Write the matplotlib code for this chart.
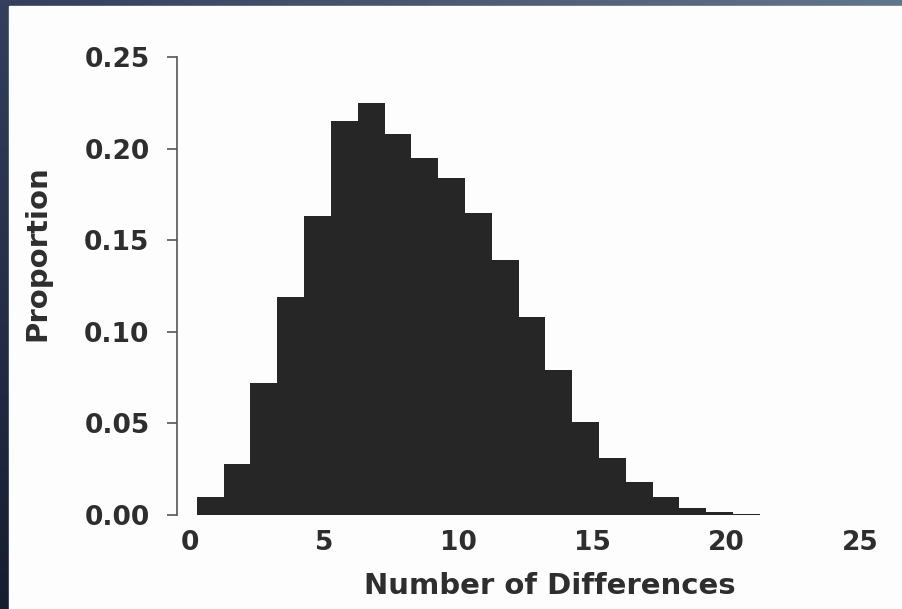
import matplotlib.pyplot as plt
import matplotlib.colors as mcolors
import numpy as np

# Histogram data
differences = np.arange(0, 21)
proportions = [0.010, 0.028, 0.072, 0.119, 0.163, 0.215, 0.225, 0.208, 0.195, 0.184,
               0.165, 0.139, 0.108, 0.079, 0.051, 0.031, 0.018, 0.010, 0.004, 0.0015, 0.0007]
y_ticks = [0.00, 0.05, 0.10, 0.15, 0.20, 0.25]
x_ticks = [0, 5, 10, 15, 20, 25]

W, H = 902, 609
fig = plt.figure(figsize=(W / 100, H / 100), dpi=100)

# slide background: dark blue frame with gradient, white panel
bg = fig.add_axes([0, 0, 1, 1])
gx = np.linspace(0, 1, 200)
gy = np.linspace(0, 1, 120)
GX, GY = np.meshgrid(gx, gy)
tl = np.array(mcolors.to_rgb('#333f5c'))
tr = np.array(mcolors.to_rgb('#62768a'))
bl = np.array(mcolors.to_rgb('#161d30'))
img = (tl[None, None, :] * (1 - GX[..., None]) + tr[None, None, :] * GX[..., None]) * (1 - GY[..., None]) \
      + (bl[None, None, :] * (1 - GX[..., None]) + tl[None, None, :] * GX[..., None]) * GY[..., None]
bg.imshow(img, extent=[0, 1, 0, 1], aspect='auto', origin='upper')
bg.add_patch(plt.Rectangle((9 / W, 0), 1, 1 - 6 / H, color='#fdfdfd', zorder=2))
bg.set_xlim(0, 1)
bg.set_ylim(0, 1)
bg.axis('off')

# main axes: pixel placement
x0_px, x1_px = 176.7, 902
y_top, y_bot = 57, 515
unit = 26.8  # px per x unit, x=0 at 190 px
xmin = (x0_px - 190) / unit
xmax = (x1_px - 190) / unit
ax = fig.add_axes([x0_px / W, 1 - y_bot / H, (x1_px - x0_px) / W, (y_bot - y_top) / H])
ax.patch.set_alpha(0)

ax.bar(differences + 0.25, proportions, width=1.01, align='edge', color='#262626',
       edgecolor='none')

ax.set_xlim(xmin, xmax)
ax.set_ylim(0, 0.25)
ax.set_yticks(y_ticks)
ax.set_yticklabels([f'{v:.2f}' for v in y_ticks])
ax.set_xticks(x_ticks)

for s in ['top', 'right', 'bottom']:
    ax.spines[s].set_visible(False)
ax.spines['left'].set_color('#555555')
ax.spines['left'].set_linewidth(1.2)

ax.tick_params(axis='y', length=7.5, width=1.2, color='#555555', pad=12,
               labelsize=19, labelcolor='#2e2e2e')
ax.tick_params(axis='x', length=0, pad=11, labelsize=19, labelcolor='#2e2e2e')
for lab in ax.get_xticklabels() + ax.get_yticklabels():
    lab.set_fontfamily('DejaVu Sans')
    lab.set_fontweight('bold')

ax.set_xlabel('Number of Differences', fontsize=21, fontweight='bold',
              family='DejaVu Sans', color='#2e2e2e')
ax.xaxis.set_label_coords(550 / W, 1 - 586 / H, transform=fig.transFigure)
ax.set_ylabel('Proportion', fontsize=21, fontweight='bold',
              family='DejaVu Sans', color='#2e2e2e')
ax.yaxis.set_label_coords(37 / W, 1 - 253 / H, transform=fig.transFigure)
ax.xaxis.label.set_va('center')
ax.yaxis.label.set_va('center')

fig.savefig('out.png', dpi=100)
